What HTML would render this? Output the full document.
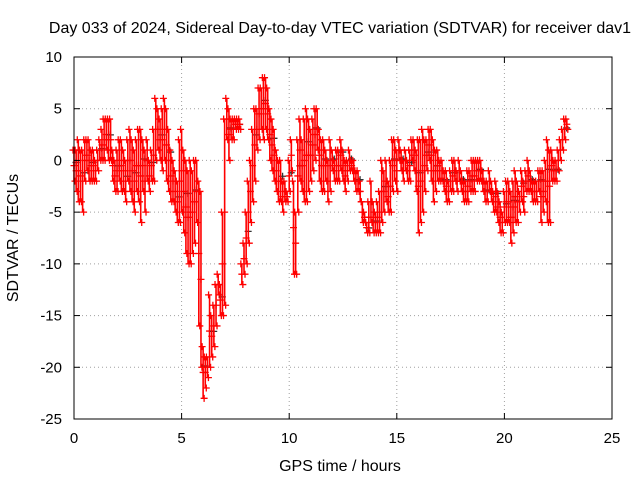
<!DOCTYPE html>
<html><head><meta charset="utf-8"><style>
body{margin:0;background:#fff}
svg text{font-family:"Liberation Sans",sans-serif;font-size:15px;fill:#000}
svg text.big{font-size:16px}
</style></head><body>
<svg id="c" width="640" height="480">
<rect width="640" height="480" fill="#fff"/>
<text class="big" x="340" y="33" text-anchor="middle">Day 033 of 2024, Sidereal Day-to-day VTEC variation (SDTVAR) for receiver dav1</text>
<text class="big" x="340" y="471" text-anchor="middle">GPS time / hours</text>
<text class="big" transform="translate(18,238) rotate(-90)" text-anchor="middle">SDTVAR / TECUs</text>
<g id="grid"></g><g id="marks"></g><g id="ticks"></g>
<rect x="74" y="57" width="538" height="362" fill="none" stroke="#000"/>
</svg>
<script>
const xTicks=[0,5,10,15,20,25];
const yTicks=[10,5,0,-5,-10,-15,-20,-25];
const hi=[1,1,2,1,1,2,2,2,1,1,0,1,2,3,4,4,4,4,1,0,1,2,2,1,0,2,3,2,1,2,3,3,2,1,2,0,1,3,6,5,4,5,6,5,3,1,0,-1,-2,2,3,1,0,-1,0,-1,0,0,-2,-3,-18,-19,-19,-13,-15,-14,-12,-11,-12,-5,4,6,5,4,4,4,4,4,-10,-8,-5,-2,0,3,5,5,7,7,8,8,7,5,4,3,1,0,0,-2,-2,-3,0,2,-2,-5,2,4,2,4,5,4,3,4,5,5,3,2,2,1,0,2,1,0,1,1,2,1,0,0,1,0,0,-1,-1,-2,-4,-5,-6,-4,-2,-4,-5,-4,-3,0,-1,0,-2,0,2,2,1,2,1,0,1,0,1,2,2,1,2,2,3,2,2,3,3,2,1,1,0,0,-1,-1,-2,-1,0,0,-1,0,-1,-2,-2,-1,-1,0,0,0,0,0,-1,-2,-2,-1,-2,-3,-2,-3,-4,-5,-3,-2,-2,-3,-2,-1,-2,-3,-1,-2,-1,0,-1,-2,-2,-2,-1,-1,-1,0,2,1,1,0,0,1,2,3,4,4];
const lo=[-2,-3,-4,-4,-5,-2,-1,-2,-2,-2,-2,-1,0,0,0,1,0,0,-2,-3,-3,-2,-3,-3,-4,-2,-3,-4,-5,-3,-4,-6,-3,-5,-2,-3,-2,-2,0,1,0,-1,0,-2,-3,-4,-4,-5,-6,-6,-5,-7,-9,-10,-10,-9,-8,-6,-16,-20,-23,-22,-21,-20,-19,-18,-16,-13,-15,-15,-14,2,0,2,2,3,3,3,-12,-11,-10,-8,-6,-4,-2,1,2,3,2,3,2,0,-1,-2,-3,-4,-4,-5,-4,-4,-3,-1,-11,-11,-5,-2,-3,-4,-4,-3,-2,-1,0,1,-2,-3,-3,-2,-4,-3,-1,-2,-2,-2,-1,-2,-3,-2,-1,-1,-2,-3,-3,-4,-6,-6,-7,-7,-6,-7,-7,-7,-7,-6,-5,-4,-5,-5,-3,-2,-3,0,-1,-2,-1,-2,-2,0,-1,-3,-7,-6,-5,-3,-1,0,-2,-4,-3,-2,-2,-2,-3,-4,-4,-3,-3,-2,-3,-2,-3,-4,-4,-4,-3,-3,-3,-2,-2,-2,-3,-4,-4,-3,-4,-5,-5,-6,-7,-7,-6,-6,-6,-8,-7,-6,-6,-5,-4,-5,-3,-3,-3,-4,-4,-4,-3,-6,-5,-4,-6,-6,-2,-2,-2,-1,0,1,2,3];
const t0=0,dt=0.1;
const NS="http://www.w3.org/2000/svg";
const X=v=>74+(v-0)/25*538, Y=v=>57+(10-v)/35*362;
const grid=document.getElementById('grid'),ticks=document.getElementById('ticks'),marks=document.getElementById('marks');
function mk(tag,at,p){const e=document.createElementNS(NS,tag);for(const k in at)e.setAttribute(k,at[k]);p.appendChild(e);return e;}
xTicks.forEach(v=>{const x=X(v);
 if(v>0&&v<25){const g=mk('line',{x1:x,x2:x,y1:57,y2:419,stroke:'#a0a0a0','stroke-dasharray':'1,3'},grid);
 
 }
 mk('line',{x1:x,x2:x,y1:419,y2:413,stroke:'#000'},ticks);mk('line',{x1:x,x2:x,y1:57,y2:63,stroke:'#000'},ticks);
 const t=mk('text',{x:x,y:443,'text-anchor':'middle'},ticks);t.textContent=v;
 
 });
yTicks.forEach(v=>{const y=Y(v);
 if(v<10&&v>-25){const g=mk('line',{x1:74,x2:612,y1:y,y2:y,stroke:'#a0a0a0','stroke-dasharray':'1,3'},grid);
 
 }
 mk('line',{x1:74,x2:80,y1:y,y2:y,stroke:'#000'},ticks);mk('line',{x1:612,x2:606,y1:y,y2:y,stroke:'#000'},ticks);
 const t=mk('text',{x:62,y:y+5,'text-anchor':'end'},ticks);t.textContent=v;
 
 });
function plus(x,y,c){mk('path',{d:`M${x-3.5},${y}h7M${x},${y-3.5}v7`,stroke:c,'stroke-width':1.3},marks);}
hi.forEach((h,i)=>{const x=X(t0+i*dt),a=Y(h),b=Y(lo[i]);
 if(i%4===0)plus(x+2,(a*2+b)/3+2,'#333');
 const l=mk('line',{x1:x,x2:x,y1:a,y2:b,stroke:'#f00','stroke-width':1.6},marks);
 
 
 plus(x-1,a,'#f00');plus(x+1,b,'#f00');plus(x,(a+b)/2,'#f00');});
</script>
</body></html>
